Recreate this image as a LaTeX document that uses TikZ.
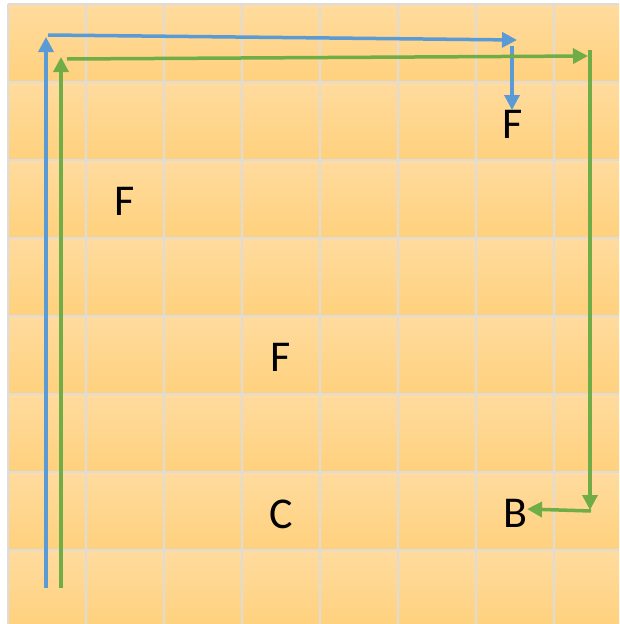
\documentclass[tikz,border=0pt]{standalone}
\usepackage{fontspec}
\setmainfont{Carlito}
\usetikzlibrary{arrows.meta}
\definecolor{cellTop}{HTML}{FFDB9E}
\definecolor{cellBot}{HTML}{FFD17D}
\definecolor{gridc}{HTML}{DCDCDC}
\definecolor{bluea}{HTML}{5B9BD5}
\definecolor{greena}{HTML}{70AD47}
\tikzset{
  cellbox/.style={top color=cellTop,bottom color=cellBot},
  gridline/.style={draw=gridc,line width=2.5pt},
  bluearrow/.style={draw=bluea,line width=3.5pt,-{Triangle[length=15pt,width=15pt]}},
  greenarrow/.style={draw=greena,line width=3.5pt,-{Triangle[length=15pt,width=15pt]}},
  letter/.style={inner sep=0pt,font=\fontsize{44}{44}\selectfont,text=black}
}
\begin{document}
\begin{tikzpicture}[x=1pt,y=-1pt]
\useasboundingbox (0,0) rectangle (619,624);
\clip (0,0) rectangle (619,624);
\fill[white] (0,0) rectangle (619,624);
\foreach \i in {0,...,7}{
  \foreach \j in {0,...,7}{
    \shade[cellbox] ({8+78*\i},{4+78*\j}) rectangle ++(78,78);
  }
}
\foreach \i in {0,...,8}{
  \draw[gridline] ({8+78*\i},4) -- ({8+78*\i},640);
  \draw[gridline] (8,{4+78*\i}) -- (640,{4+78*\i});
}
% labels
\node[letter] (f1) at (125,201) {F};
\node[letter] (f2) at (513,124) {F};
\node[letter] (f3) at (281,357) {F};
\node[letter] (c1) at (281,514) {C};
\node[letter] (b1) at (515,513) {B};
% blue route
\coordinate (b0) at (46,588);
\coordinate (bTip) at (46,37);
\coordinate (bH0) at (48,35);
\coordinate (bH1) at (517,40);
\coordinate (bV0) at (512,46);
\coordinate (bV1) at (512,110);
\draw[bluearrow] (b0) -- (bTip);
\draw[bluearrow] (bH0) -- (bH1);
\draw[bluearrow] (bV0) -- (bV1);
% green route
\coordinate (g0) at (61,588);
\coordinate (gTip) at (61,57);
\coordinate (gH0) at (67,59);
\coordinate (gH1) at (588,56);
\coordinate (gV0) at (590,50);
\coordinate (gV1) at (590,510);
\coordinate (gB0) at (591,511);
\coordinate (gB1) at (527,509);
\draw[greenarrow] (g0) -- (gTip);
\draw[greenarrow] (gH0) -- (gH1);
\draw[greenarrow] (gV0) -- (gV1);
\draw[greenarrow] (gB0) -- (gB1);
\end{tikzpicture}
\end{document}
